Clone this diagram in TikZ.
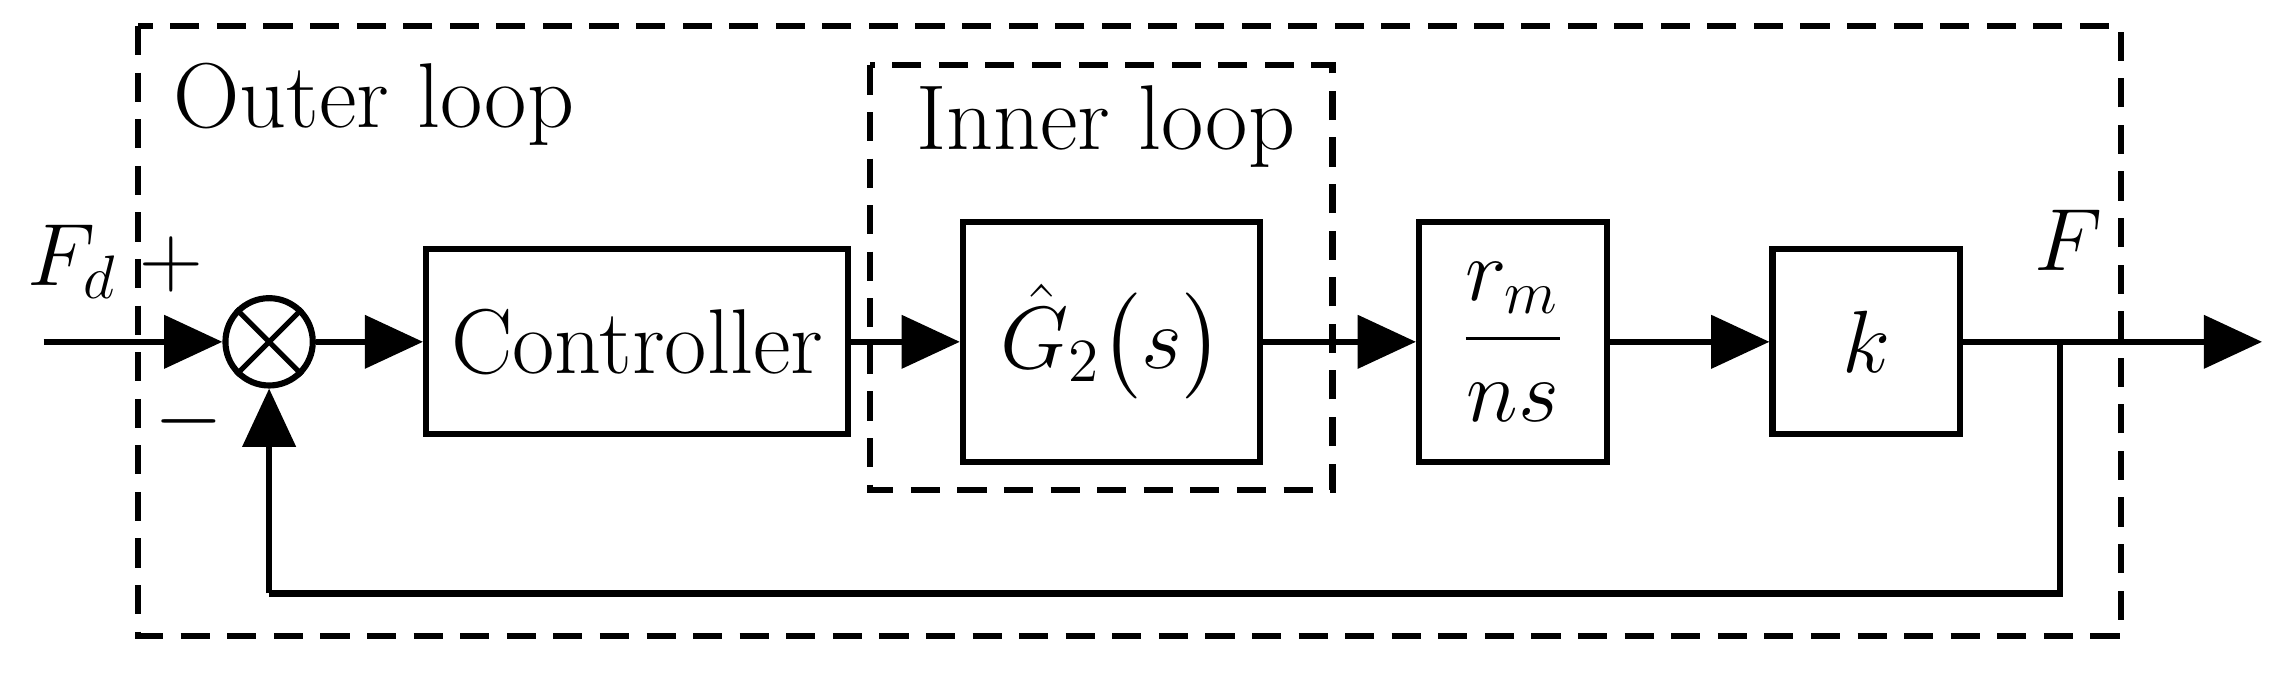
\documentclass[tikz,border=0pt]{standalone}
\usepackage{amsmath}
\usetikzlibrary{arrows.meta}
\tikzset{
	blk/.style={draw,line width=1.2pt,inner sep=0pt},
	sig/.style={line width=1.2pt,-{Triangle[length=0.4cm,width=0.36cm]}},
	wire/.style={line width=1.2pt},
	loopbox/.style={draw,line width=1.2pt,dash pattern=on 0.2cm off 0.12cm}
}
\begin{document}
\begin{tikzpicture}[x=0.01cm,y=0.01cm,font=\fontsize{18}{21}\selectfont]
	\useasboundingbox (0,0) rectangle (1568,465);

	\draw[loopbox] (95,447) rectangle (1458,28);
	\draw[loopbox] (598,420) rectangle (916,128);
	\node at (257,393) (outer) {Outer loop};
	\node at (760,378) (inner) {Inner loop};

	\coordinate (in) at (30,230);
	\node[draw,circle,line width=1.2pt,minimum size=0.6cm,inner sep=0pt] at (185,230) (sum) {};
	\draw[line width=1pt] (sum.north west) -- (sum.south east) (sum.north east) -- (sum.south west);
	\node[blk,minimum width=2.9cm,minimum height=1.27cm] at (438,230) (ctrl) {Controller};
	\node[blk,minimum width=2.04cm,minimum height=1.65cm] at (764,230) (g2) {$\hat{G}_2\big(s\big)$};
	\node[blk,minimum width=1.29cm,minimum height=1.65cm] at (1040,230) (rm) {$\dfrac{r_m}{ns}$};
	\node[blk,minimum width=1.29cm,minimum height=1.27cm] at (1283,230) (k) {$k$};
	\coordinate (br) at (1416,230);
	\coordinate (out) at (1555,230);
	\coordinate (fb) at (1416,57);
	\coordinate (fbl) at (185,57);

	\node at (50,285) (fd) {$F_d$};
	\node at (118,283) (plus) {$+$};
	\node at (130,175) (minus) {$-$};
	\node at (1422,300) (f) {$F$};

	\draw[sig] (in) -- (sum);
	\draw[sig] (sum) -- (ctrl);
	\draw[sig] (ctrl) -- (g2);
	\draw[sig] (g2) -- (rm);
	\draw[sig] (rm) -- (k);
	\draw[sig] (k) -- (out);
	\draw[wire] (br) -- (fb) -- (fbl);
	\draw[sig] (fbl) -- (sum);
\end{tikzpicture}
\end{document}
